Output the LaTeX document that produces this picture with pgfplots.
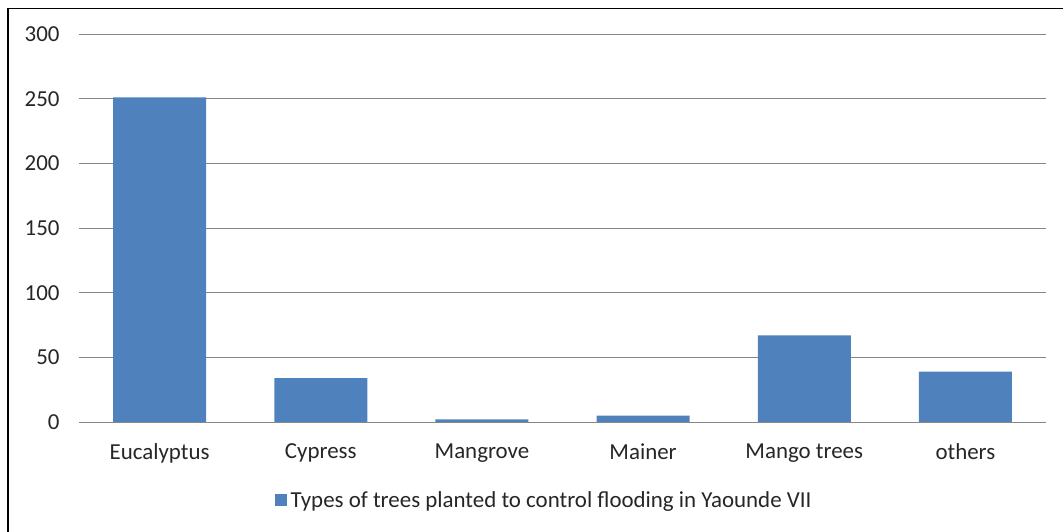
\documentclass[border=0pt]{standalone}
\usepackage{pgfplots}
\pgfplotsset{compat=1.18}
\usepackage{fontspec}
\setmainfont{Carlito}
\definecolor{barblue}{RGB}{79,129,189}
\definecolor{gridgray}{RGB}{134,134,134}
\begin{document}
\begin{tikzpicture}
\path[use as bounding box] (0,0) rectangle (1063bp,532bp);
\begin{scope}
\clip (0,0) rectangle (1063bp,532bp);
\draw[black, line width=1.5bp] (8bp,-10bp) -- (8bp,523.5bp) -- (1075bp,523.5bp);
\end{scope}
\begin{axis}[
  at={(79bp,110bp)}, anchor=south west,
  scale only axis, width=967bp, height=388bp,
  xmin=-0.5, xmax=5.5, ymin=0, ymax=300,
  ytick={0,50,100,150,200,250,300},
  xtick={0,1,2,3,4,5},
  xticklabels={Eucalyptus,Cypress,Mangrove,Mainer,Mango trees,others},
  axis line style={draw=none},
  major tick length=0pt,
  ymajorgrids, grid style={gridgray, line width=0.9bp},
  tick label style={font=\fontsize{23}{27}\selectfont, text=black!85},
  /pgf/number format/assume math mode=true,
  yticklabel style={xshift=-16bp},
  xticklabel style={yshift=-18bp},
  legend style={at={(axis description cs:0.481,-0.201)}, anchor=center, draw=none,
    font=\fontsize{23}{27}\selectfont, text=black!85, inner sep=0pt,
    /tikz/every even column/.append style={column sep=0pt}},
  ybar, bar width=93bp,
]
\addplot[fill=barblue, draw=none,
  legend image code/.code={\fill[barblue] (0bp,-6bp) rectangle (12bp,6bp);}]
  coordinates {(0,251) (1,34) (2,2) (3,5) (4,67) (5,39)};
\addlegendentry{\hspace{2bp}Types of trees planted to control flooding in Yaounde VII}
\draw[gridgray, line width=0.9bp] (axis cs:-0.5,0) -- (axis cs:5.5,0);
\end{axis}
\end{tikzpicture}
\end{document}
